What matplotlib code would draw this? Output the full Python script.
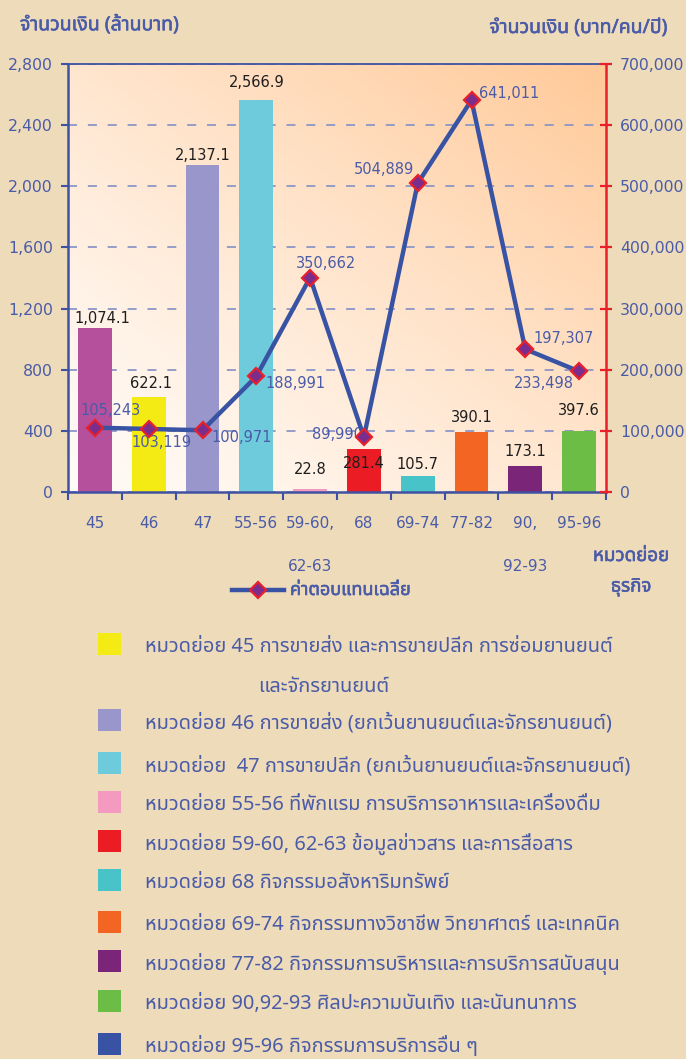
"""Bar + line combo: amount by sub-category vs. average pay. Run: python plot.py"""
import matplotlib
matplotlib.use("Agg")
import matplotlib.pyplot as plt
import matplotlib.patheffects as pe
import numpy as np
from matplotlib import font_manager, ft2font
from matplotlib.lines import Line2D
from matplotlib.patches import Rectangle
from matplotlib.colors import to_rgb

# ---------------------------------------------------------------- data
categories = ["45", "46", "47", "55-56", "59-60,\n62-63", "68",
              "69-74", "77-82", "90,\n92-93", "95-96"]
amount_mb = [1074.1, 622.1, 2137.1, 2566.9, 22.8, 281.4, 105.7, 390.1, 173.1, 397.6]
avg_pay = [105243, 103119, 100971, 188991, 350662, 89990, 504889, 641011, 233498, 197307]
bar_colors = ["#B5519C", "#F5EB14", "#9896CA", "#6ECBDC", "#F49AC1",
              "#EC1C24", "#48C3C8", "#F26522", "#7B2579", "#6BBD45"]
left_ticks = [0, 400, 800, 1200, 1600, 2000, 2400, 2800]
right_ticks = [0, 100000, 200000, 300000, 400000, 500000, 600000, 700000]

legend_colors = ["#F5EB14", "#9896CA", "#6ECBDC", "#F49AC1", "#EC1C24",
                 "#48C3C8", "#F26522", "#7B2579", "#6BBD45", "#3953A4"]
legend_labels = [
    "หมวดย่อย 45 การขายส่ง และการขายปลีก การซ่อมยานยนต์",
    "หมวดย่อย 46 การขายส่ง (ยกเว้นยานยนต์และจักรยานยนต์)",
    "หมวดย่อย  47 การขายปลีก (ยกเว้นยานยนต์และจักรยานยนต์)",
    "หมวดย่อย 55-56 ที่พักแรม การบริการอาหารและเครื่องดื่ม",
    "หมวดย่อย 59-60, 62-63 ข้อมูลข่าวสาร และการสื่อสาร",
    "หมวดย่อย 68 กิจกรรมอสังหาริมทรัพย์",
    "หมวดย่อย 69-74 กิจกรรมทางวิชาชีพ วิทยาศาตร์ และเทคนิค",
    "หมวดย่อย 77-82 กิจกรรมการบริหารและการบริการสนับสนุน",
    "หมวดย่อย 90,92-93 ศิลปะความบันเทิง และนันทนาการ",
    "หมวดย่อย 95-96 กิจกรรมการบริการอื่น ๆ",
]
legend_extra = "และจักรยานยนต์"

# label nudges in px (dx, dy; dy up is positive)
bar_lbl_off = [(7, 2), (2, 6), (0, 2), (0, 10), (0, 12), (0, -22), (0, 4), (0, 7), (0, 7), (0, 13)]
pt_lbl_off = [(16, 17), (13, -14), (39, -7), (39, -7), (16, 14),
              (-26, 2), (-34, 14), (38, 7), (19, -34), (-15, 33)]

BG = "#EDDBBA"
BLUE = "#3F52A2"
TXT = "#4A5BA8"
RED = "#E8202A"


def find_thai_font():
    prefs = ["Tahoma", "Noto Sans Thai", "Noto Sans Thai UI", "Leelawadee UI", "Leelawadee",
             "Loma", "Garuda", "Waree", "Umpush", "Sarabun", "Norasi", "Kinnari"]
    found = {}
    for fe in font_manager.fontManager.ttflist:
        try:
            cmap = ft2font.FT2Font(fe.fname).get_charmap()
        except Exception:
            continue
        if 0x0E01 in cmap:
            found.setdefault(fe.name, fe.fname)
    for p in prefs:
        if p in found:
            return p
    return sorted(found)[0] if found else "DejaVu Sans"


THAI = find_thai_font()
THAI_FAM = [THAI, "DejaVu Sans"]
BOLDISH = [pe.withStroke(linewidth=0.4, foreground=TXT)]

fig = plt.figure(figsize=(6.86, 10.59), dpi=100, facecolor=BG)
W, H = 686, 1059
ax = fig.add_axes([68 / W, 1 - 492 / H, 538 / W, 428 / H])
ax2 = ax.twinx()

# gradient plot background, light bottom-left to peach top-right
n = 200
gx, gy = np.meshgrid(np.linspace(0, 1, n), np.linspace(0, 1, n))
t = ((gx + gy) / 2) ** 1.25
c0, c1 = np.array(to_rgb("#FFFBF7")), np.array(to_rgb("#FFC998"))
img = c0[None, None, :] * (1 - t[..., None]) + c1[None, None, :] * t[..., None]
ax.imshow(img, extent=[0, 1, 0, 1], transform=ax.transAxes, origin="lower",
          aspect="auto", zorder=0, interpolation="bilinear")

x = np.arange(len(categories))
ax.bar(x, amount_mb, width=0.63, color=bar_colors, zorder=2)
for i, v in enumerate(amount_mb):
    dx, dy = bar_lbl_off[i]
    ax.annotate(f"{v:,.1f}", (x[i], v), xytext=(dx * 0.72, dy * 0.72),
                textcoords="offset points", ha="center", va="bottom",
                fontsize=10.5, color="#1E1E1E", zorder=5)

ax.set_xlim(-0.5, len(categories) - 0.5)
ax.set_ylim(0, 2800)
ax.set_yticks(left_ticks)
ax.set_yticklabels([f"{v:,}" for v in left_ticks])
ax.grid(axis="y", color="#8C96C6", linestyle=(0, (5, 6)), linewidth=1.3)
ax.set_axisbelow(True)

ax.set_xticks(x)
ax.set_xticklabels(categories, fontsize=11, color=TXT, linespacing=3.4, va="top")
ax.set_xticks(np.arange(-0.5, len(categories)), minor=True)
ax.tick_params(axis="x", which="major", length=0, pad=17)
ax.tick_params(axis="x", which="minor", length=6, width=1.5, color=BLUE, direction="out")
ax.tick_params(axis="y", length=5, width=1.5, color=BLUE, labelcolor=TXT, labelsize=11.3, pad=6)

for s in ["left", "bottom"]:
    ax.spines[s].set_color(BLUE)
    ax.spines[s].set_linewidth(1.8)
ax.spines["top"].set_color(BLUE)
ax.spines["top"].set_linewidth(1.3)
ax.spines["right"].set_visible(False)

# line on right axis
ax2.plot(x, avg_pay, color="#3953A4", linewidth=3.2, marker="D", markersize=8,
         markerfacecolor="#7B2D8E", markeredgecolor=RED, markeredgewidth=1.6, zorder=4)
for i, v in enumerate(avg_pay):
    dx, dy = pt_lbl_off[i]
    ax2.annotate(f"{v:,}", (x[i], v), xytext=(dx * 0.72, dy * 0.72),
                 textcoords="offset points", ha="center", va="center",
                 fontsize=10.5, color=TXT)
ax2.set_ylim(0, 700000)
ax2.set_yticks(right_ticks)
ax2.set_yticklabels([f"{v:,}" for v in right_ticks])
ax2.tick_params(axis="y", length=8, width=1.6, color=RED, direction="inout",
                labelcolor=TXT, labelsize=11.3, pad=6)
for s in ["left", "top", "bottom"]:
    ax2.spines[s].set_visible(False)
ax2.spines["right"].set_color(RED)
ax2.spines["right"].set_linewidth(1.8)

# axis titles
fig.text(20 / W, 1 - 25 / H, "จำนวนเงิน (ล้านบาท)", family=THAI_FAM, fontsize=14,
         color=TXT, ha="left", va="center", path_effects=BOLDISH)
fig.text(668 / W, 1 - 28 / H, "จำนวนเงิน (บาท/คน/ปี)", family=THAI_FAM, fontsize=14,
         color=TXT, ha="right", va="center", path_effects=BOLDISH)
fig.text(631 / W, 1 - 556 / H, "หมวดย่อย", family=THAI_FAM, fontsize=13.5,
         color=TXT, ha="center", va="center", path_effects=BOLDISH)
fig.text(631 / W, 1 - 587 / H, "ธุรกิจ", family=THAI_FAM, fontsize=13.5,
         color=TXT, ha="center", va="center", path_effects=BOLDISH)

# line legend
ly = 1 - 590 / H
fig.add_artist(Line2D([232 / W, 284 / W], [ly, ly], color="#3953A4", linewidth=3.2))
fig.add_artist(Line2D([258 / W], [ly], marker="D", markersize=8, color="#7B2D8E",
                      markeredgecolor=RED, markeredgewidth=1.6))
fig.text(290 / W, ly, "ค่าตอบแทนเฉลี่ย", family=THAI_FAM, fontsize=13, color=TXT,
         ha="left", va="center", path_effects=BOLDISH)

# category legend
rows = [644, 720, 763, 802, 841, 880, 922, 961, 1001, 1044]
for c, lab, ry in zip(legend_colors, legend_labels, rows):
    fig.add_artist(Rectangle((98 / W, 1 - (ry + 11) / H), 23 / W, 22 / H,
                             transform=fig.transFigure, facecolor=c, edgecolor="none"))
    fig.text(145 / W, 1 - (ry + 3) / H, lab, family=THAI_FAM, fontsize=14.4,
             color=TXT, ha="left", va="center")
fig.text(258 / W, 1 - 687 / H, legend_extra, family=THAI_FAM, fontsize=14.4,
         color=TXT, ha="left", va="center")

fig.savefig("out.png", dpi=100, facecolor=BG)
